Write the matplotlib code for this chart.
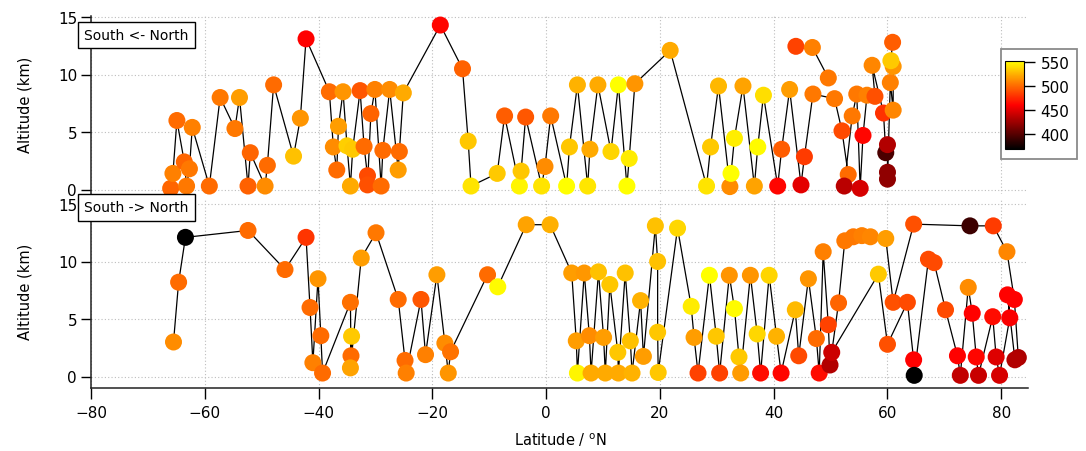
import numpy as np
import matplotlib
matplotlib.use("Agg")
import matplotlib.pyplot as plt
from matplotlib.colors import LinearSegmentedColormap, Normalize
from matplotlib.cm import ScalarMappable
from matplotlib.patches import Rectangle

# ---- Southbound flight (South <- North): latitude, altitude (km), colour value ----
top_lat_a = [-66.0, -65.6, -64.9, -63.6, -63.2, -62.7, -62.2, -59.2, -57.3, -54.7,
             -53.9, -52.4, -52.0, -49.4, -49.0, -47.9, -44.4, -43.2, -42.2, -38.1,
             -37.4, -36.8, -36.5, -35.7, -35.0, -34.4, -34.0, -32.7, -32.0, -31.4,
             -31.4, -30.8, -30.1, -29.0, -28.7, -27.5, -26.0, -25.8, -25.1, -18.6,
             -14.7, -13.7, -13.2, -8.6, -7.3, -4.7, -4.4, -3.6, -0.8, -0.2,
             0.8, 3.6, 4.1, 5.5, 7.3, 7.7, 9.1, 11.4, 12.7, 14.2,
             14.6, 15.6, 21.8, 28.2, 28.9, 30.3, 32.3, 32.5, 33.1, 34.6,
             36.6, 37.2, 38.2, 40.7, 41.4, 42.8, 44.8, 45.4, 46.9, 50.7,
             52.0, 53.1, 52.4, 53.8, 54.6, 55.2, 55.7, 56.4, 57.8, 57.3,
             59.3, 59.7, 60.0, 60.0, 60.0, 60.5, 61.0, 61.0, 60.6, 60.9]
top_alt_a = [0.1, 1.4, 6.0, 2.4, 0.3, 1.8, 5.4, 0.3, 8.0, 5.3,
             8.0, 0.3, 3.2, 0.3, 2.1, 9.1, 2.9, 6.2, 13.1, 8.5,
             3.7, 1.7, 5.5, 8.5, 3.8, 0.3, 3.5, 8.6, 3.75, 1.2,
             0.4, 6.6, 8.7, 0.3, 3.4, 8.7, 1.7, 3.3, 8.4, 14.3,
             10.5, 4.2, 0.3, 1.4, 6.4, 0.3, 1.6, 6.3, 0.3, 2.0,
             6.4, 0.3, 3.7, 9.1, 0.3, 3.5, 9.1, 3.3, 9.1, 0.3,
             2.7, 9.2, 12.1, 0.3, 3.7, 9.0, 0.25, 1.4, 4.45, 9.0,
             0.3, 3.7, 8.2, 0.3, 3.5, 8.7, 0.4, 2.85, 8.3, 7.9,
             5.1, 1.3, 0.3, 6.4, 8.3, 0.1, 4.7, 8.2, 8.1, 10.8,
             6.65, 3.2, 3.9, 1.5, 0.9, 9.3, 6.9, 10.7, 11.2, 12.8]
top_val_a = [498, 508, 500, 498, 505, 505, 508, 500, 505, 505,
             518, 496, 498, 512, 500, 500, 530, 515, 460, 500,
             512, 500, 518, 515, 535, 522, 533, 492, 500, 488,
             490, 497, 508, 500, 500, 512, 518, 500, 522, 462,
             496, 532, 542, 533, 495, 548, 532, 493, 542, 512,
             505, 552, 532, 525, 543, 522, 522, 537, 552, 552,
             545, 515, 522, 542, 533, 527, 512, 552, 546, 520,
             520, 550, 540, 462, 495, 518, 450, 482, 505, 505,
             488, 500, 435, 505, 505, 445, 462, 508, 490, 510,
             478, 395, 432, 420, 420, 508, 510, 515, 533, 495]

top_lat_b = [43.9, 46.8, 49.6]
top_alt_b = [12.45, 12.35, 9.7]
top_val_b = [485, 508, 505]

# ---- Northbound flight (South -> North) ----
bot_lat_a = [-65.5, -64.6, -63.4, -52.4, -45.9, -42.2, -41.5, -41.0, -40.1, -39.6,
             -39.3, -34.4, -34.3, -34.2, -34.4, -32.5, -29.9, -26.0, -24.8, -24.6,
             -22.0, -21.2, -19.2, -17.8, -17.2, -16.8, -10.3, -8.5, -3.5, 0.7,
             4.5, 5.3, 5.5, 6.7, 7.6, 7.9, 9.2, 10.1, 10.4, 11.2,
             12.6, 12.7, 13.9, 14.8, 15.1, 16.6, 17.1, 19.2, 19.6, 19.6,
             19.7, 23.1, 25.5, 26.0, 26.7, 28.7, 29.9, 30.5, 32.2, 33.1,
             33.9, 34.2, 35.9, 37.1, 37.7, 39.2, 40.5, 41.3, 43.8, 44.4,
             46.1, 47.5, 48.0, 48.7, 49.6, 49.9, 51.4, 52.5, 54.0, 55.5,
             57.0, 59.7, 61.0, 64.6, 74.5, 78.6, 81.0, 82.3, 83.0]
bot_alt_a = [3.0, 8.2, 12.1, 12.7, 9.3, 12.1, 6.0, 1.2, 8.5, 3.55,
             0.3, 6.45, 1.8, 3.5, 0.75, 10.3, 12.5, 6.7, 1.4, 0.3,
             6.7, 1.9, 8.85, 2.9, 0.3, 2.15, 8.85, 7.8, 13.2, 13.2,
             9.0, 3.1, 0.3, 9.0, 3.55, 0.3, 9.1, 3.4, 0.3, 8.0,
             2.1, 0.3, 9.0, 3.1, 0.3, 6.6, 1.75, 13.1, 10.0, 3.85,
             0.35, 12.9, 6.1, 3.4, 0.3, 8.8, 3.5, 0.3, 8.8, 5.9,
             1.7, 0.3, 8.8, 3.7, 0.3, 8.8, 3.5, 0.3, 5.8, 1.8,
             8.5, 3.3, 0.3, 10.85, 4.5, 1.0, 6.4, 11.8, 12.15, 12.25,
             12.15, 12.0, 6.45, 13.25, 13.1, 13.1, 10.85, 6.7, 1.65]
bot_val_a = [512, 500, 368, 500, 500, 480, 500, 508, 515, 500,
             500, 502, 500, 533, 520, 518, 505, 500, 500, 508,
             492, 508, 518, 512, 515, 503, 500, 550, 520, 524,
             518, 518, 548, 516, 512, 522, 530, 518, 522, 532,
             532, 522, 530, 530, 525, 525, 518, 530, 530, 532,
             532, 538, 545, 518, 485, 552, 532, 485, 515, 550,
             533, 517, 515, 538, 465, 537, 525, 462, 528, 488,
             515, 500, 465, 508, 485, 432, 498, 505, 505, 508,
             510, 518, 490, 490, 390, 482, 510, 460, 430]

bot_lat_b = [50.2, 58.4, 60.0, 63.5, 64.6, 64.7, 67.2, 68.2, 70.2, 72.3,
             72.8, 74.2, 74.9, 75.6, 76.0, 78.5, 79.1, 79.7, 81.5, 81.1, 82.4]
bot_alt_b = [2.1, 8.9, 2.8, 6.45, 1.45, 0.1, 10.2, 9.9, 5.8, 1.8,
             0.1, 7.75, 5.5, 1.7, 0.1, 5.2, 1.7, 0.1, 5.1, 7.1, 1.45]
bot_val_b = [442, 533, 490, 488, 460, 368, 488, 488, 488, 460,
             438, 512, 460, 462, 440, 465, 448, 445, 458, 460, 432]

cbar_ticks = [400, 450, 500, 550]
x_ticks = [-80, -60, -40, -20, 0, 20, 40, 60, 80]
y_ticks = [0, 5, 10, 15]

# ---- figure layout in pixels ----
W, H = 1086, 452
fig = plt.figure(figsize=(W / 100, H / 100), dpi=100)
fig.patch.set_facecolor("white")


def px_axes(x0, y0, x1, y1):
    return fig.add_axes([x0 / W, 1 - y1 / H, (x1 - x0) / W, (y1 - y0) / H])


cmap = LinearSegmentedColormap.from_list(
    "yellowhot", [(0.0, (0, 0, 0)), (0.5, (1, 0, 0)), (0.76, (1, 0.5, 0)), (1.0, (1, 1, 0))])
norm = Normalize(368, 552)

ax_top = px_axes(91, 16.85, 1028, 195.1)
ax_bot = px_axes(91, 200.4, 1028, 389)
ax_top.set_ylim(-0.4, 15.1)
ax_bot.set_ylim(-1.0, 15.4)

for ax in (ax_top, ax_bot):
    ax.set_xlim(-80, 84.7)
    ax.set_xticks(x_ticks)
    ax.set_yticks(y_ticks)
    ax.grid(True, linestyle=(0, (1, 2)), color="#bdbdbd", lw=0.8)
    ax.set_axisbelow(True)
    ax.patch.set_alpha(0)
    for s in ("top", "right"):
        ax.spines[s].set_visible(False)
    ax.spines["left"].set_linewidth(1.1)
    ax.spines["left"].set_color("#222222")
    ax.tick_params(axis="y", direction="out", length=7, width=1.0, labelsize=11, pad=3)

ax_top.spines["bottom"].set_visible(False)
ax_top.tick_params(axis="x", length=0, labelbottom=False)
ax_bot.spines["bottom"].set_linewidth(1.1)
ax_bot.spines["bottom"].set_color("#222222")
ax_bot.tick_params(axis="x", direction="out", length=8, width=1.0, labelsize=11, pad=4)


def draw_leg(ax, lat, alt, val):
    ax.plot(lat, alt, color="black", lw=0.9, zorder=2, clip_on=False)
    ax.scatter(lat, alt, c=val, cmap=cmap, norm=norm, s=150, linewidths=0,
               zorder=3, clip_on=False)


draw_leg(ax_top, top_lat_a, top_alt_a, top_val_a)
draw_leg(ax_top, top_lat_b, top_alt_b, top_val_b)
draw_leg(ax_bot, bot_lat_a, bot_alt_a, bot_val_a)
draw_leg(ax_bot, bot_lat_b, bot_alt_b, bot_val_b)

# colour scale in a framed box
box = Rectangle((1001 / W, 1 - 160 / H), (1077 - 1001) / W, (160 - 50) / H,
                transform=fig.transFigure, fc="white", ec="#8a8a8a", lw=1.3, zorder=2)
fig.patches.append(box)
cax = px_axes(1005, 62, 1024, 150)
cax.set_zorder(5)
cb = fig.colorbar(ScalarMappable(norm=norm, cmap=cmap), cax=cax)
cb.set_ticks(cbar_ticks)
cb.outline.set_linewidth(0.8)
cax.tick_params(direction="out", length=8, width=1.0, labelsize=11, pad=4)

# panel labels
label_box = dict(boxstyle="square,pad=0.45", fc="white", ec="black", lw=1.0)
fig.text(84 / W, 1 - 36 / H, "South <- North", ha="left", va="center",
         fontsize=10, bbox=label_box, zorder=4)
fig.text(84 / W, 1 - 208.5 / H, "South -> North", ha="left", va="center",
         fontsize=10, bbox=label_box, zorder=4)

fig.text(25 / W, 1 - 105 / H, "Altitude (km)", rotation=90, ha="center", va="center", fontsize=10.5)
fig.text(25 / W, 1 - 292 / H, "Altitude (km)", rotation=90, ha="center", va="center", fontsize=10.5)
fig.text(560 / W, 1 - 440 / H, "Latitude / $^{\\mathrm{o}}$N", ha="center", va="center", fontsize=10.5)

fig.savefig("out.png", dpi=100)
